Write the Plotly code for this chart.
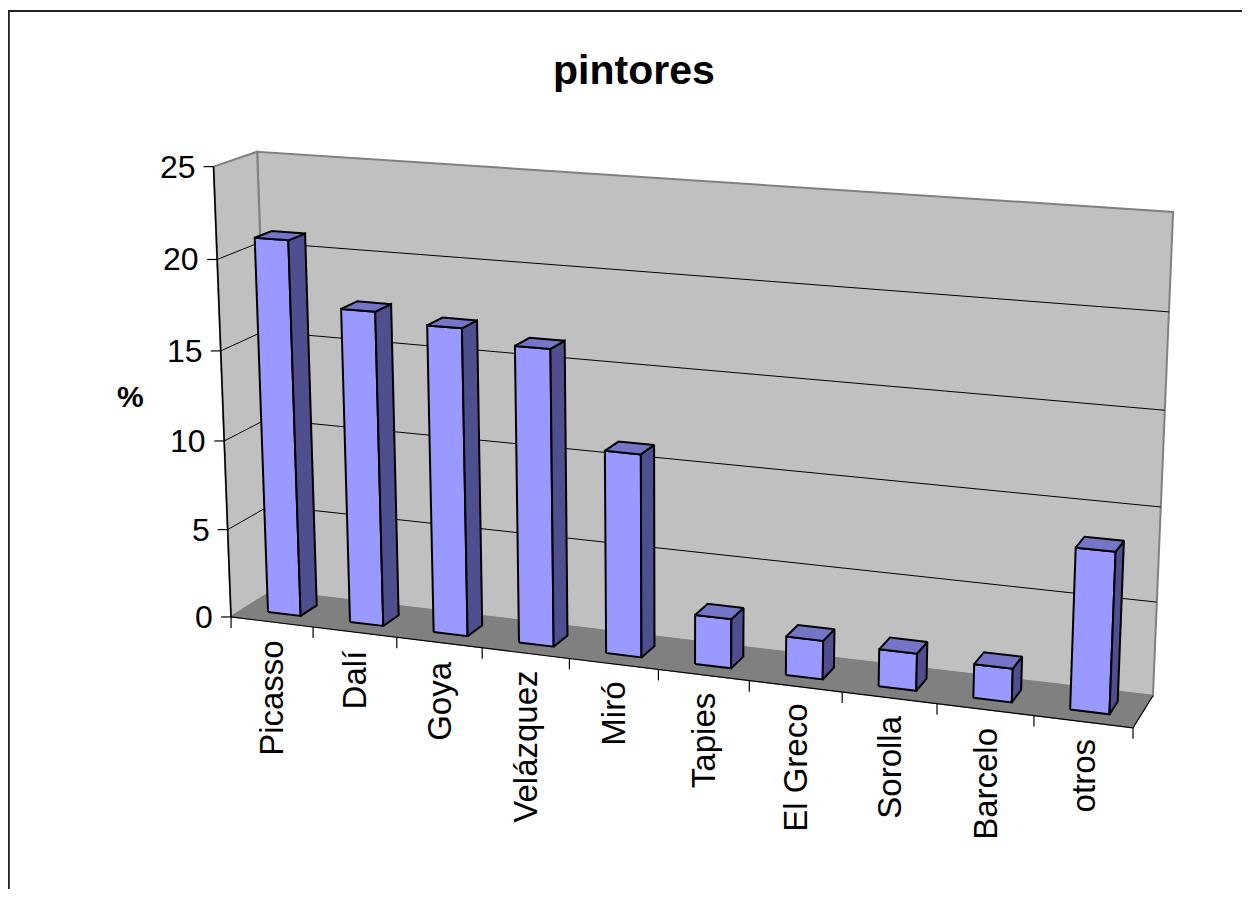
import numpy as np
import plotly.graph_objects as go

# ---------------- data ----------------
categories = ["Picasso", "Dalí", "Goya", "Velázquez", "Miró",
              "Tapies", "El Greco", "Sorolla", "Barcelo", "otros"]
values = [21.0, 17.5, 17.0, 16.3, 11.1, 2.7, 2.1, 2.0, 1.8, 8.5]
value_ticks = [0, 5, 10, 15, 20, 25]
value_max = 25
chart_title = "pintores"
value_axis_title = "%"

# ---------------- 3-D view calibration (chart frame corners) ----------------
# (category, value, depth) -> page pixel
frame_calibration = [
    ((0, 0, 0), (231.0, 616.7)), ((0, 5, 0), (227.7, 530.0)),
    ((0, 10, 0), (224.3, 440.7)), ((0, 15, 0), (221.0, 350.0)),
    ((0, 20, 0), (217.7, 260.0)), ((0, 25, 0), (213.3, 166.0)),
    ((0, 25, 1), (256.7, 152.5)), ((0, 0, 1), (272.5, 591.0)),
    ((10, 25, 1), (1173.0, 212.0)), ((10, 20, 1), (1169.0, 312.0)),
    ((10, 15, 1), (1165.0, 410.0)), ((10, 10, 1), (1161.0, 507.0)),
    ((10, 5, 1), (1157.0, 602.0)), ((10, 0, 1), (1153.0, 695.0)),
    ((10, 0, 0), (1133.0, 727.0)), ((1, 0, 0), (313.0, 627.0)),
    ((6, 0, 0), (749.0, 680.0)), ((7, 0, 0), (843.0, 693.0)),
    ((8, 0, 0), (937.0, 705.0)), ((9, 0, 0), (1033.0, 716.0)),
]


def fit_camera(pairs):
    rows = []
    for (X, Y, Z), (u, v) in pairs:
        X, Y, u, v = X / 10.0, Y / 25.0, u / 1000.0, v / 1000.0
        rows.append([X, Y, Z, 1, 0, 0, 0, 0, -u * X, -u * Y, -u * Z, -u])
        rows.append([0, 0, 0, 0, X, Y, Z, 1, -v * X, -v * Y, -v * Z, -v])
    _, _, vt = np.linalg.svd(np.array(rows, float))
    return vt[-1].reshape(3, 4)


P = fit_camera(frame_calibration)


def proj(X, Y, Z):
    h = P @ np.array([X / 10.0, Y / 25.0, Z, 1.0])
    return h[0] / h[2] * 1000.0, h[1] / h[2] * 1000.0


def poly(pts3d):
    pts = [proj(*p) for p in pts3d]
    pts.append(pts[0])
    return [p[0] for p in pts], [p[1] for p in pts]


FONT = "Liberation Sans, Arial, sans-serif"
n = len(categories)
fig = go.Figure()


def add_face(pts3d, fill, line_color, line_width):
    xs, ys = poly(pts3d)
    fig.add_trace(go.Scatter(x=xs, y=ys, mode="lines", fill="toself",
                             fillcolor=fill,
                             line=dict(color=line_color, width=line_width),
                             hoverinfo="skip", showlegend=False))


def add_lines(segments, color, width):
    xs, ys = [], []
    for a, b in segments:
        xs += [a[0], b[0], None]
        ys += [a[1], b[1], None]
    fig.add_trace(go.Scatter(x=xs, y=ys, mode="lines",
                             line=dict(color=color, width=width),
                             hoverinfo="skip", showlegend=False))


# walls
add_face([(0, 0, 1), (n, 0, 1), (n, value_max, 1), (0, value_max, 1)],
         "#C0C0C0", "#808080", 2)
add_face([(0, 0, 0), (0, 0, 1), (0, value_max, 1), (0, value_max, 0)],
         "#C0C0C0", "#808080", 2)
# floor
add_face([(0, 0, 0), (n, 0, 0), (n, 0, 1), (0, 0, 1)],
         "#808080", "#808080", 1)

# gridlines
grid = []
for t in value_ticks[1:-1]:
    grid.append((proj(0, t, 1), proj(n, t, 1)))
    grid.append((proj(0, t, 0), proj(0, t, 1)))
add_lines(grid, "black", 1)

# axes lines
add_lines([(proj(0, 0, 0), proj(0, value_max, 0))], "black", 1.5)
add_lines([(proj(0, 0, 0), proj(n, 0, 0)),
           (proj(n, 0, 0), proj(n, 0, 1))], "black", 1.2)

# value axis ticks
vt_segs = []
for t in value_ticks:
    u, v = proj(0, t, 0)
    vt_segs.append(((u - 10, v), (u, v)))
add_lines(vt_segs, "black", 1.2)

# category ticks
ct_segs = []
for k in range(n + 1):
    u, v = proj(k, 0, 0)
    ct_segs.append(((u, v), (u, v + 11)))
add_lines(ct_segs, "black", 1.2)

# bars
bw0, bw1, bd0, bd1 = 0.3, 0.7, 0.3, 0.7
for i, val in enumerate(values):
    x0, x1 = i + bw0, i + bw1
    add_face([(x0, 0, bd0), (x1, 0, bd0), (x1, val, bd0), (x0, val, bd0)],
             "#9999FF", "black", 2)
    add_face([(x1, 0, bd0), (x1, 0, bd1), (x1, val, bd1), (x1, val, bd0)],
             "#4F4F8F", "black", 2)
    add_face([(x0, val, bd0), (x1, val, bd0), (x1, val, bd1), (x0, val, bd1)],
             "#7575C8", "black", 2)

annotations = []
for t in value_ticks:
    u, v = proj(0, t, 0)
    annotations.append(dict(x=u - 16, y=v, text=str(t), showarrow=False,
                            xanchor="right", yanchor="middle",
                            font=dict(family=FONT, size=32, color="black")))
for i, c in enumerate(categories):
    u, v = proj(i + 0.5, 0, 0)
    annotations.append(dict(x=u, y=v + 16, text=c, showarrow=False,
                            textangle=-90, xanchor="center", yanchor="top",
                            font=dict(family=FONT, size=33, color="black")))
annotations.append(dict(x=634, y=70, text="<b>%s</b>" % chart_title,
                        showarrow=False, xanchor="center", yanchor="middle",
                        font=dict(family=FONT, size=41, color="black")))
annotations.append(dict(x=130, y=396, text="<b>%s</b>" % value_axis_title,
                        showarrow=False, xanchor="center", yanchor="middle",
                        font=dict(family=FONT, size=30, color="black")))
for a in annotations:
    a["xref"] = "x"
    a["yref"] = "y"

fig.update_layout(
    width=1234, height=881,
    margin=dict(l=0, r=0, t=0, b=0),
    paper_bgcolor="white", plot_bgcolor="white",
    xaxis=dict(range=[8, 1242], visible=False, fixedrange=True),
    yaxis=dict(range=[889, 8], visible=False, fixedrange=True),
    annotations=annotations,
    shapes=[
        dict(type="line", xref="x", yref="y", x0=8.8, x1=8.8, y0=11, y1=900,
             line=dict(color="#222222", width=2)),
        dict(type="line", xref="x", yref="y", x0=8, x1=1260, y0=11, y1=11,
             line=dict(color="#222222", width=2)),
    ],
)

fig.write_html("out.html")
